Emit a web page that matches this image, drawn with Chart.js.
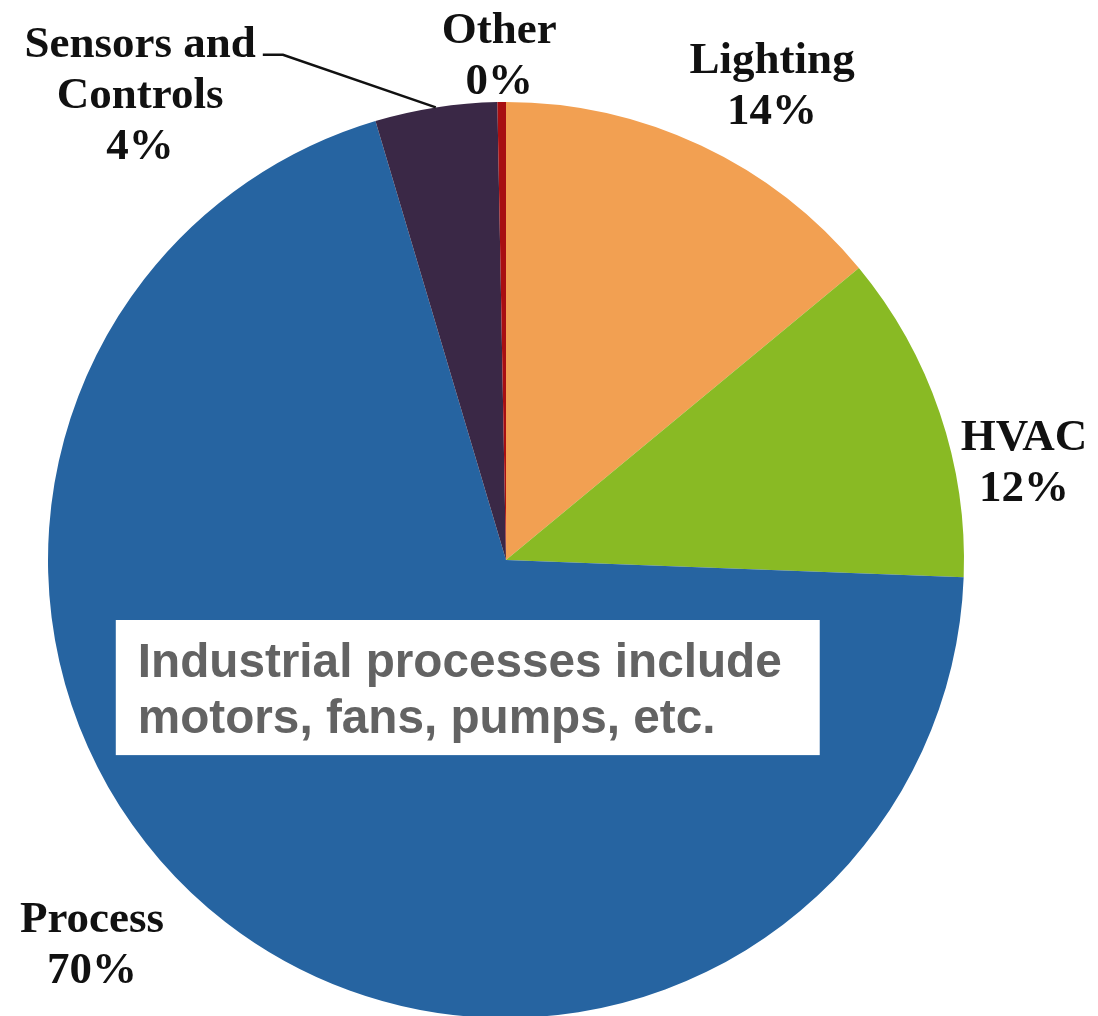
<!DOCTYPE html>
<html>
<head>
<meta charset="utf-8">
<script src="https://cdn.jsdelivr.net/npm/chart.js@4"></script>
<style>
  html, body { margin: 0; padding: 0; background: #fff; overflow: hidden; }
  #wrap { width: 1098px; height: 1016px; overflow: hidden; position: relative; }
  #wrap canvas { display: block; }
</style>
</head>
<body>
<div id="wrap"><canvas id="pieChart" width="1098" height="1040"></canvas></div>
<script>
// data
const categories = ['Lighting', 'HVAC', 'Process', 'Sensors and Controls', 'Other'];
const shares = [14.0, 11.6, 69.8, 4.3, 0.3];
const sliceColors = ['#F2A052', '#89BA24', '#2664A1', '#3A2846', '#A80F12'];

// label text split in lines, offsets are in units of the pie radius (from centre)
const labelLines = [['Lighting'], ['HVAC'], ['Process'], ['Sensors and', 'Controls'], ['Other']];
const labelOffsets = [[0.581, -1.063], [1.131, -0.240], [-0.904, 0.812], [-0.799, -1.098], [-0.015, -1.129]];

const noteLines = ['Industrial processes include', 'motors, fans, pumps, etc.'];

const pieLabels = {
  id: 'pieLabels',
  afterDatasetsDraw(chart) {
    const ctx = chart.ctx;
    const arcs = chart.getDatasetMeta(0).data;
    const cx = arcs[0].x;
    const cy = arcs[0].y;
    const r = arcs[0].outerRadius;

    // leader line for sensors and controls
    const sensor = arcs[3];
    const mid = (sensor.startAngle + sensor.endAngle) / 2;
    ctx.save();
    ctx.strokeStyle = '#111';
    ctx.lineWidth = 2.5;
    ctx.beginPath();
    ctx.moveTo(cx - 0.531 * r, cy - 1.103 * r);
    ctx.lineTo(cx - 0.487 * r, cy - 1.103 * r);
    ctx.lineTo(cx + Math.cos(mid) * r, cy + Math.sin(mid) * r);
    ctx.stroke();

    ctx.fillStyle = '#111';
    ctx.font = 'bold 45px "Liberation Serif", "Times New Roman", serif';
    ctx.textAlign = 'center';
    ctx.textBaseline = 'alphabetic';
    categories.forEach((cat, i) => {
      const lines = labelLines[i].concat([Math.round(shares[i]) + '%']);
      const x = cx + labelOffsets[i][0] * r;
      const y = cy + labelOffsets[i][1] * r;
      lines.forEach((t, j) => ctx.fillText(t, x, y + j * 51));
    });

    // note box over the process slice
    const bx = cx - 0.852 * r;
    const by = cy + 0.131 * r;
    ctx.fillStyle = '#fff';
    ctx.fillRect(bx, by, 1.537 * r, 0.295 * r);
    ctx.fillStyle = '#636363';
    ctx.font = 'bold 49px "Liberation Sans", Arial, sans-serif';
    ctx.textAlign = 'left';
    const sx = (1.406 * r) / ctx.measureText(noteLines[0]).width;
    noteLines.forEach((t, j) => {
      ctx.save();
      ctx.translate(bx + 22, by + 57 + j * 56);
      ctx.scale(sx, 1);
      ctx.fillText(t, 0, 0);
      ctx.restore();
    });
    ctx.restore();
  },
};

new Chart(document.getElementById('pieChart'), {
  type: 'pie',
  data: {
    labels: categories,
    datasets: [{
      data: shares,
      backgroundColor: sliceColors,
      borderWidth: 0,
    }],
  },
  options: {
    responsive: false,
    animation: false,
    layout: { padding: { left: 48, right: 134, top: 102, bottom: 22 } },
    plugins: {
      legend: { display: false },
      tooltip: { enabled: false },
    },
  },
  plugins: [pieLabels],
});
</script>
</body>
</html>
